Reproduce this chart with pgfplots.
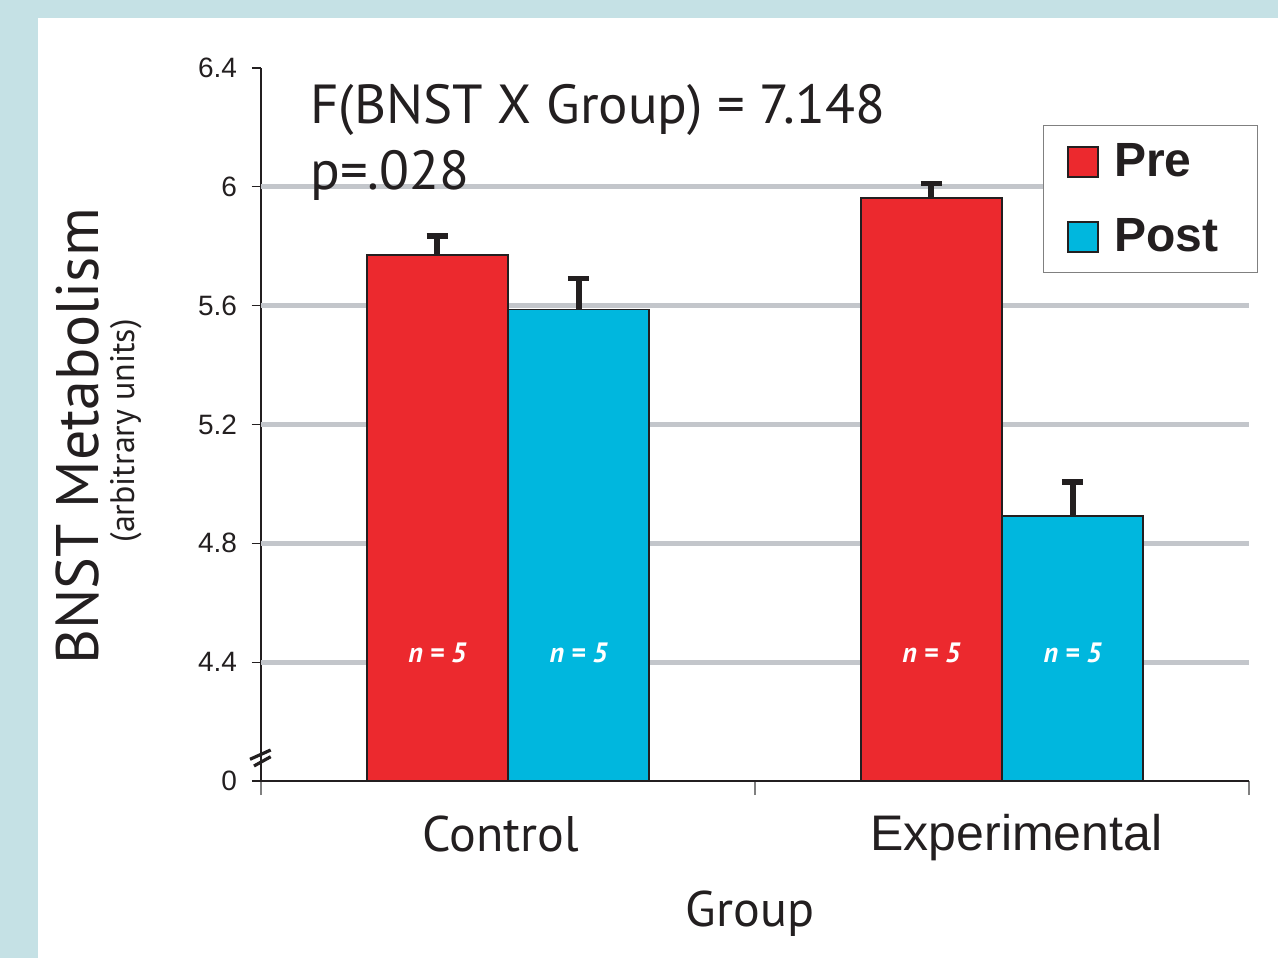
\documentclass[border=0pt]{standalone}
\usepackage{pgfplots}
\usepackage{pgfplotstable}
\pgfplotsset{compat=1.18}
\usepackage{fontspec}
\setmainfont{PT Sans}
\newfontfamily\arialfont{Liberation Sans}

\definecolor{bgblue}{RGB}{197,225,229}
\definecolor{barred}{RGB}{236,41,46}
\definecolor{barcyan}{RGB}{0,183,222}
\definecolor{gridgray}{RGB}{195,198,203}
\definecolor{ink}{RGB}{35,31,32}

% group centre, mean and upper error for each session
\pgfplotstableread{
x    pre    preerr  post   posterr
0.5  5.771  0.064   5.587  0.104
1.5  5.963  0.049   4.892  0.114
}\bnsttable

\begin{document}
\begin{tikzpicture}
\useasboundingbox (-130.5pt,-88.5pt) rectangle (508.5pt,390.5pt);
\fill[bgblue] (-130.5pt,-88.5pt) rectangle (508.5pt,390.5pt);
\fill[white] (-111.5pt,-88.5pt) rectangle (508.5pt,381.5pt);
\begin{axis}[
  at={(0pt,0pt)}, anchor=south west,
  scale only axis, width=494pt, height=356.5pt,
  xmin=0, xmax=2, ymin=4, ymax=6.4,
  axis x line=bottom, axis y line=left,
  axis line style={-, draw=ink, line width=1pt},
  tick align=outside,
  xtick={0,1,2}, xticklabels={},
  x tick style={draw=gray, line width=0.8pt, /pgfplots/major tick length=7pt},
  ytick={4,4.4,4.8,5.2,5.6,6.0,6.4},
  yticklabels={0,4.4,4.8,5.2,5.6,6,6.4},
  y tick style={draw=ink, line width=0.6pt, /pgfplots/major tick length=4.5pt},
  yticklabel style={font=\arialfont\fontsize{14}{14}\selectfont, text=ink, inner sep=0pt, xshift=-7.5pt},
  extra y ticks={4.4,4.8,5.2,5.6,6.0},
  extra y tick labels={},
  extra y tick style={grid=major, major grid style={draw=gridgray, line width=2.4pt}, /pgfplots/major tick length=0pt},
  ybar, bar width=0.286,
  legend style={at={(0.7915,0.920)}, anchor=north west,
    draw=black!50, line width=0.7pt, fill=white,
    font=\arialfont\bfseries\fontsize{24}{24}\selectfont, text=ink,
    inner xsep=11.7pt, inner ysep=9pt, row sep=19.5pt,
    nodes={inner sep=0pt}},
  legend cell align=left,
  legend image code/.code={
    \draw[#1, draw=ink, line width=1pt] (0pt,-7.5pt) rectangle (15pt,7.5pt);
    \path (22.5pt,0pt);
  },
  error bars/y dir=plus, error bars/y explicit,
  error bars/error bar style={draw=ink, line width=3pt},
  error bars/error mark options={draw=ink, line width=2.7pt, mark size=5.4pt, rotate=90},
]
\addplot[fill=barred, draw=ink, line width=0.9pt, bar shift=-0.143]
  table[x=x, y=pre, y error=preerr] {\bnsttable};
\addlegendentry{Pre}
\addplot[fill=barcyan, draw=ink, line width=0.9pt, bar shift=0.143]
  table[x=x, y=post, y error=posterr] {\bnsttable};
\addlegendentry{Post\hspace*{8pt}}

% sample sizes inside the bars
\pgfplotsinvokeforeach{0.357,0.643,1.357,1.643}{
  \node[anchor=base, inner sep=0pt, text=white, font=\fontsize{14}{14}\selectfont\bfseries\itshape]
    at (axis cs:#1,4.4) {n = 5};
}
\end{axis}

% x axis line redrawn over the bar bottoms
\draw[ink, line width=1pt] (0pt,0pt) -- (494pt,0pt);
% axis break marks
\draw[ink, line width=1.6pt] (-5.5pt,10.85pt) -- (4.85pt,15.5pt);
\draw[ink, line width=1.6pt] (-3.5pt,7.5pt) -- (4.85pt,12.15pt);

% statistics
\node[anchor=base west, inner sep=0pt, text=ink, font=\fontsize{27.5}{27.5}\selectfont]
  at (24.5pt,328.85pt) {F(BNST X Group) = 7.148};
\node[anchor=base west, inner sep=0pt, text=ink, font=\fontsize{27.5}{27.5}\selectfont]
  at (24.5pt,295.85pt) {p=.028};

% group labels
\node[anchor=base, inner sep=0pt, text=ink, font=\fontsize{25}{25}\selectfont]
  at (120pt,-35.35pt) {Control};
\node[anchor=base, inner sep=0pt, text=ink, font=\arialfont\fontsize{25}{25}\selectfont]
  at (377.75pt,-34.5pt) {Experimental};
\node[anchor=base, inner sep=0pt, text=ink, font=\fontsize{25}{25}\selectfont]
  at (244.5pt,-72.5pt) {Group};

% y axis title
\node[anchor=base, rotate=90, inner sep=0pt, text=ink, font=\fontsize{30}{30}\selectfont]
  at (-81.35pt,172.25pt) {BNST Metabolism};
\node[anchor=base, rotate=90, inner sep=0pt, text=ink, font=\fontsize{17}{17}\selectfont]
  at (-63pt,175.1pt) {(arbitrary units)};
\end{tikzpicture}
\end{document}
